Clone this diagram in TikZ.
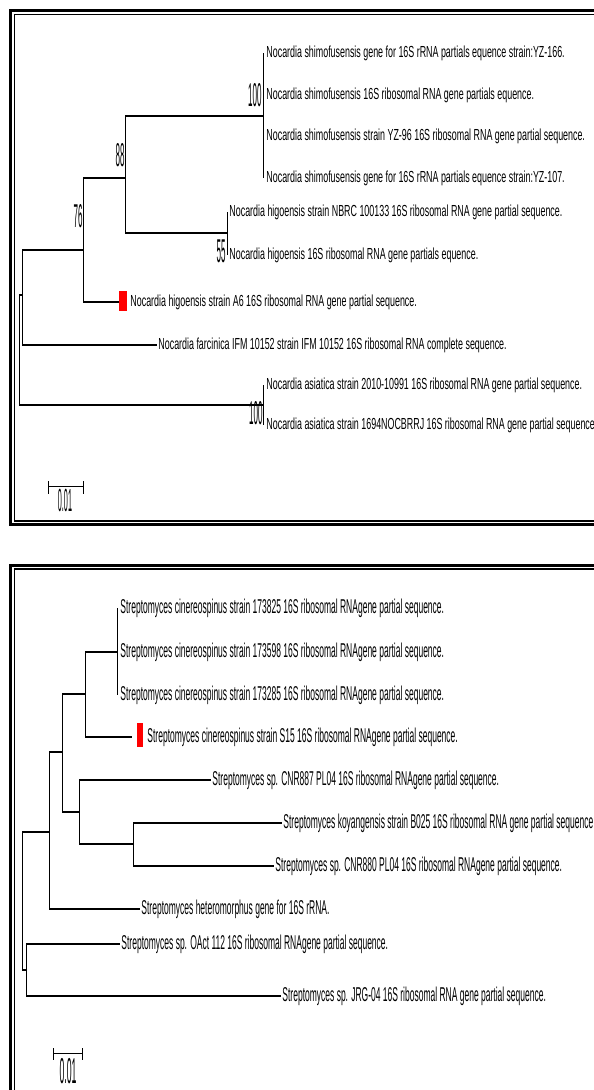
\documentclass[tikz,border=0pt]{standalone}
\usepackage{fontspec}
\setmainfont{Liberation Sans}
\newcommand{\tiplbl}[1]{\scalebox{0.89}[1.6]{#1}}
\newcommand{\tiplblb}[1]{\scalebox{0.85}[2.0]{#1}}
\newcommand{\bootlbl}[1]{\scalebox{0.8}[3.3]{#1}}

\begin{document}
\begin{tikzpicture}[x=1pt, y=-1pt, line width=0.9pt,
  hbr/.style={line width=1.8pt},
  vbr/.style={line width=0.9pt},
  tip/.style={anchor=west, inner sep=1pt, font=\fontsize{10}{12}\selectfont},
  boot/.style={anchor=east, inner sep=0pt, font=\fontsize{10}{12}\selectfont},
  sclbl/.style={inner sep=0pt, font=\fontsize{10}{12}\selectfont},
  redbox/.style={fill=red, draw=none, inner sep=0pt}]

\useasboundingbox (0,0) rectangle (594,1090);
\fill[white] (0,0) rectangle (594,1090);

% ---------------------------
% frames
% ---------------------------
\draw[line width=3pt] (10.5,10.5) rectangle (610,524.5);
\draw[line width=1.5pt] (14.5,14.5) rectangle (610,521);
\draw[line width=3pt] (10.5,565) rectangle (610,1110);
\draw[line width=1.5pt] (14.5,569) rectangle (610,1110);

% ---------------------------
% tree 1: Nocardia
% ---------------------------
\begin{scope}
  \coordinate (nS)  at (263,116);
  \coordinate (nH)  at (227,233);
  \coordinate (n88) at (125,178);
  \coordinate (n76) at (83,250);
  \coordinate (nF)  at (22,295);
  \coordinate (nR)  at (19,350);
  \coordinate (nA)  at (263,405);

  \node[tip] (s1) at (265,53)  {\tiplbl{Nocardia shimofusensis gene for 16S rRNA partials equence strain:YZ-166.}};
  \node[tip] (s2) at (265,95)  {\tiplbl{Nocardia shimofusensis 16S ribosomal RNA gene partials equence.}};
  \node[tip] (s3) at (265,136) {\tiplbl{Nocardia shimofusensis strain YZ-96 16S ribosomal RNA gene partial sequence.}};
  \node[tip] (s4) at (265,178) {\tiplbl{Nocardia shimofusensis gene for 16S rRNA partials equence strain:YZ-107.}};
  \node[tip] (h1) at (228,212) {\tiplbl{Nocardia higoensis strain NBRC 100133 16S ribosomal RNA gene partial sequence.}};
  \node[tip] (h2) at (228,255) {\tiplbl{Nocardia higoensis 16S ribosomal RNA gene partials equence.}};
  \node[redbox, minimum width=8pt, minimum height=20pt] (sqA) at (123,301) {};
  \node[tip] (a6) at (129,302) {\tiplbl{Nocardia higoensis strain A6 16S ribosomal RNA gene partial sequence.}};
  \node[tip] (fc) at (157,345) {\tiplbl{Nocardia farcinica IFM 10152 strain IFM 10152 16S ribosomal RNA complete sequence.}};
  \node[tip] (as1) at (265,385) {\tiplbl{Nocardia asiatica strain 2010-10991 16S ribosomal RNA gene partial sequence.}};
  \node[tip] (as2) at (265,425) {\tiplbl{Nocardia asiatica strain 1694NOCBRRJ 16S ribosomal RNA gene partial sequence}};

  \draw[vbr] (nS |- s1.west) -- (nS |- s4.west);
  \draw[vbr] (nH |- h1.west) -- (nH |- h2.west);
  \draw[vbr] (nA |- as1.west) -- (nA |- as2.west);

  \draw[vbr] (n88 |- nS) -- (n88 |- nH);
  \draw[hbr] (n88 |- nS) -- (nS);
  \draw[hbr] (n88 |- nH) -- (nH);

  \draw[vbr] (n76 |- n88) -- (n76 |- a6.west);
  \draw[hbr] (n76 |- n88) -- (n88);
  \draw[hbr] (n76 |- a6.west) -- (sqA.west |- a6.west);

  \draw[vbr] (nF |- n76) -- (nF |- fc.west);
  \draw[hbr] (nF |- n76) -- (n76);
  \draw[hbr] (nF |- fc.west) -- (fc.west);

  \draw[vbr] (nR |- nF) -- (nR |- nA);
  \draw[hbr] (nR |- nF) -- (nF);
  \draw[hbr] (nR |- nA) -- (nA);

  \node[boot] (b1) at (262,95)  {\bootlbl{100}};
  \node[boot] (b2) at (125,155) {\bootlbl{88}};
  \node[boot] (b3) at (83,216)  {\bootlbl{76}};
  \node[boot] (b4) at (226,251) {\bootlbl{55}};
  \node[boot] (b5) at (263,413) {\bootlbl{100}};

  % scale bar
  \coordinate (sbL) at (48,486);
  \coordinate (sbR) at (83,486);
  \draw[vbr] (sbL) -- (sbR);
  \draw[vbr] (sbL) ++(0,-5) -- ++(0,13);
  \draw[vbr] (sbR) ++(0,-5) -- ++(0,13);
  \node[sclbl] (sc1) at (65,500) {\scalebox{0.72}[3.2]{0.01}};
\end{scope}

% ---------------------------
% tree 2: Streptomyces
% ---------------------------
\begin{scope}
  \coordinate (mC)  at (117,652);
  \coordinate (mS)  at (85,694);
  \coordinate (mK)  at (133,844);
  \coordinate (mG)  at (79,812);
  \coordinate (mB)  at (62,752);
  \coordinate (mH)  at (49,832);
  \coordinate (mO)  at (26,970);
  \coordinate (mR)  at (22,901);

  \node[tip] (c1) at (119,608) {\tiplblb{Streptomyces cinereospinus strain 173825 16S ribosomal RNAgene partial sequence.}};
  \node[tip] (c2) at (119,652) {\tiplblb{Streptomyces cinereospinus strain 173598 16S ribosomal RNAgene partial sequence.}};
  \node[tip] (c3) at (119,695) {\tiplblb{Streptomyces cinereospinus strain 173285 16S ribosomal RNAgene partial sequence.}};
  \node[redbox, minimum width=6pt, minimum height=24pt] (sqS) at (140,735) {};
  \node[tip] (c4) at (146,737) {\tiplblb{Streptomyces cinereospinus strain S15 16S ribosomal RNAgene partial sequence.}};
  \node[tip] (p1) at (211,780) {\tiplblb{Streptomyces sp. CNR887 PL04 16S ribosomal RNAgene partial sequence.}};
  \node[tip] (k1) at (282,823) {\tiplblb{Streptomyces koyangensis strain B025 16S ribosomal RNA gene partial sequence}};
  \node[tip] (p2) at (274,866) {\tiplblb{Streptomyces sp. CNR880 PL04 16S ribosomal RNAgene partial sequence.}};
  \node[tip] (ht) at (140,909) {\tiplblb{Streptomyces heteromorphus gene for 16S rRNA.}};
  \node[tip] (oa) at (120,944) {\tiplblb{Streptomyces sp. OAct 112 16S ribosomal RNAgene partial sequence.}};
  \node[tip] (jr) at (281,996) {\tiplblb{Streptomyces sp. JRG-04 16S ribosomal RNA gene partial sequence.}};

  \draw[vbr] (mC |- c1.west) -- (mC |- c3.west);

  \draw[vbr] (mS |- mC) -- (mS |- c4.west);
  \draw[hbr] (mS |- mC) -- (mC);
  \draw[hbr, shorten >=5pt] (mS |- c4.west) -- (sqS.west |- c4.west);

  \draw[vbr] (mK |- k1.west) -- (mK |- p2.west);
  \draw[hbr] (mK |- k1.west) -- (k1.west);
  \draw[hbr] (mK |- p2.west) -- (p2.west);

  \draw[vbr] (mG |- p1.west) -- (mG |- mK);
  \draw[hbr] (mG |- p1.west) -- (p1.west);
  \draw[hbr] (mG |- mK) -- (mK);

  \draw[vbr] (mB |- mS) -- (mB |- mG);
  \draw[hbr] (mB |- mS) -- (mS);
  \draw[hbr] (mB |- mG) -- (mG);

  \draw[vbr] (mH |- mB) -- (mH |- ht.west);
  \draw[hbr] (mH |- mB) -- (mB);
  \draw[hbr] (mH |- ht.west) -- (ht.west);

  \draw[vbr] (mO |- oa.west) -- (mO |- jr.west);
  \draw[hbr] (mO |- oa.west) -- (oa.west);
  \draw[hbr] (mO |- jr.west) -- (jr.west);

  \draw[vbr] (mR |- mH) -- (mR |- mO);
  \draw[hbr] (mR |- mH) -- (mH);
  \draw[hbr] (mR |- mO) -- (mO);

  % scale bar
  \coordinate (tbL) at (53,1053);
  \coordinate (tbR) at (82,1053);
  \draw[vbr] (tbL) -- (tbR);
  \draw[vbr] (tbL) ++(0,-5) -- ++(0,12);
  \draw[vbr] (tbR) ++(0,-5) -- ++(0,12);
  \node[sclbl] (sc2) at (68,1071) {\scalebox{0.87}[3.6]{0.01}};
\end{scope}

\end{tikzpicture}
\end{document}
